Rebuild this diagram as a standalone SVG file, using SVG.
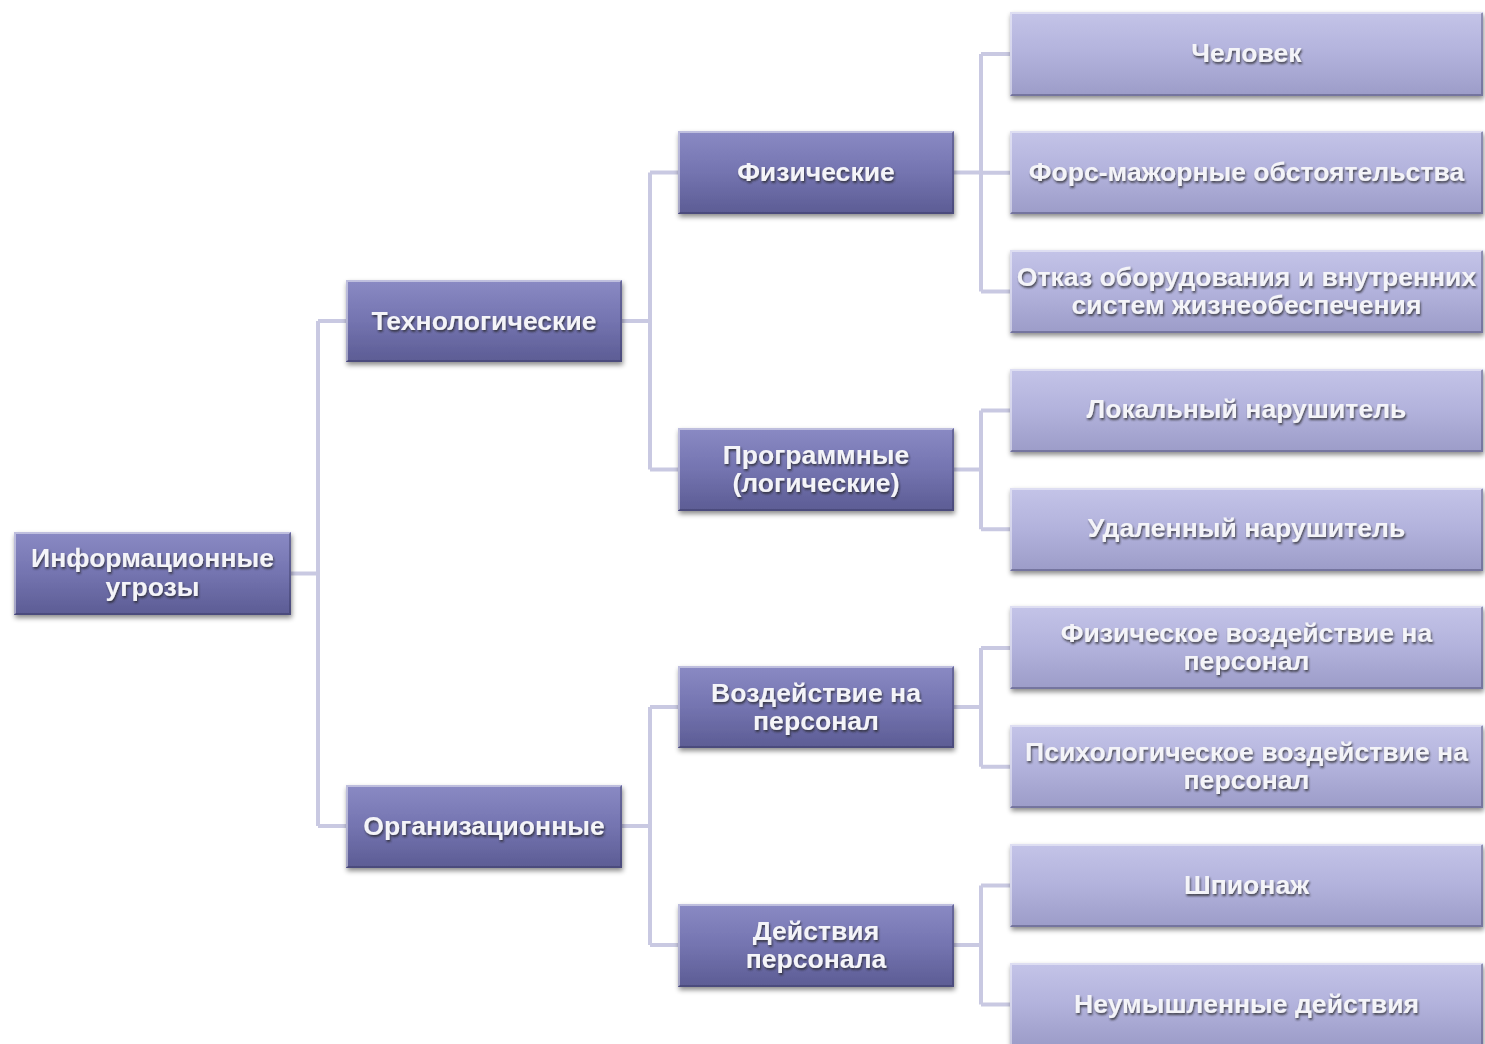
<svg xmlns="http://www.w3.org/2000/svg" width="1485" height="1044" viewBox="0 0 1485 1044">
<defs>
<linearGradient id="gDark" x1="0" y1="0" x2="0" y2="1">
<stop offset="0" stop-color="#8a8ac4"/>
<stop offset="0.5" stop-color="#7474b0"/>
<stop offset="1" stop-color="#5c5c94"/>
</linearGradient>
<linearGradient id="gLight" x1="0" y1="0" x2="0" y2="1">
<stop offset="0" stop-color="#c4c4e8"/>
<stop offset="0.5" stop-color="#b2b2dc"/>
<stop offset="1" stop-color="#9c9cc8"/>
</linearGradient>
<filter id="shadow" x="-5%" y="-10%" width="112%" height="130%">
<feDropShadow dx="1" dy="3" stdDeviation="2.5" flood-color="#000" flood-opacity="0.45"/>
</filter>
<filter id="tshadow" x="-5%" y="-20%" width="110%" height="150%">
<feDropShadow dx="1" dy="2" stdDeviation="1.2" flood-color="#222" flood-opacity="0.75"/>
</filter>
<style>
.dark{fill:url(#gDark);filter:url(#shadow)}
.light{fill:url(#gLight);filter:url(#shadow)}
.hi{fill:none;stroke:#ffffff;stroke-opacity:0.45;stroke-width:2}
.lo{fill:none;stroke:#2a2a50;stroke-opacity:0.35;stroke-width:2}
.t{font-family:"Liberation Sans",Arial,sans-serif;font-weight:bold;font-size:26.6px;fill:#f4f4f8;text-anchor:middle;filter:url(#tshadow)}
.c{fill:none;stroke:#c9c9e2;stroke-width:4}
</style>
</defs>
<rect width="1485" height="1044" fill="#ffffff"/>
<g id="connectors">
<path class="c" d="M291,573.5 H318 M318,321 V826 M318,321 H346 M318,826 H346"/>
<path class="c" d="M622,321 H650 M650,172.5 V469.5 M650,172.5 H678 M650,469.5 H678"/>
<path class="c" d="M622,826 H650 M650,707 V945 M650,707 H678 M650,945 H678"/>
<path class="c" d="M954,172.5 H981 M981,54 V291.6 M981,54 H1010 M981,172.8 H1010 M981,291.6 H1010"/>
<path class="c" d="M954,469.5 H981 M981,410.4 V529.2 M981,410.4 H1010 M981,529.2 H1010"/>
<path class="c" d="M954,707 H981 M981,648 V766.8 M981,648 H1010 M981,766.8 H1010"/>
<path class="c" d="M954,945 H981 M981,885.6 V1004.4 M981,885.6 H1010 M981,1004.4 H1010"/>
</g>
<g id="n-root">
<rect class="dark" x="14" y="532" width="277" height="83"/>
<path class="hi" d="M15,614 V533 H290"/><path class="lo" d="M15,614 H290 V533"/>
<text class="t" x="152.5" y="567">Информационные</text>
<text class="t" x="152.5" y="596">угрозы</text>
</g>
<g id="n-tech">
<rect class="dark" x="346" y="280" width="276" height="82"/>
<path class="hi" d="M347,361 V281 H621"/><path class="lo" d="M347,361 H621 V281"/>
<text class="t" x="484" y="330">Технологические</text>
</g>
<g id="n-org">
<rect class="dark" x="346" y="785" width="276" height="83"/>
<path class="hi" d="M347,867 V786 H621"/><path class="lo" d="M347,867 H621 V786"/>
<text class="t" x="484" y="835">Организационные</text>
</g>
<g id="n-phys">
<rect class="dark" x="678" y="131" width="276" height="83"/>
<path class="hi" d="M679,213 V132 H953"/><path class="lo" d="M679,213 H953 V132"/>
<text class="t" x="816" y="181">Физические</text>
</g>
<g id="n-prog">
<rect class="dark" x="678" y="428" width="276" height="83"/>
<path class="hi" d="M679,510 V429 H953"/><path class="lo" d="M679,510 H953 V429"/>
<text class="t" x="816" y="464">Программные</text>
<text class="t" x="816" y="492">(логические)</text>
</g>
<g id="n-pers">
<rect class="dark" x="678" y="666" width="276" height="82"/>
<path class="hi" d="M679,747 V667 H953"/><path class="lo" d="M679,747 H953 V667"/>
<text class="t" x="816" y="702">Воздействие на</text>
<text class="t" x="816" y="730">персонал</text>
</g>
<g id="n-act">
<rect class="dark" x="678" y="904" width="276" height="83"/>
<path class="hi" d="M679,986 V905 H953"/><path class="lo" d="M679,986 H953 V905"/>
<text class="t" x="816" y="940">Действия</text>
<text class="t" x="816" y="968">персонала</text>
</g>
<g id="n-human">
<rect class="light" x="1010" y="12" width="473" height="84"/>
<path class="hi" d="M1011,95 V13 H1482"/><path class="lo" d="M1011,95 H1482 V13"/>
<text class="t" x="1246.5" y="62">Человек</text>
</g>
<g id="n-force">
<rect class="light" x="1010" y="131" width="473" height="83"/>
<path class="hi" d="M1011,213 V132 H1482"/><path class="lo" d="M1011,213 H1482 V132"/>
<text class="t" x="1246.5" y="181">Форс-мажорные обстоятельства</text>
</g>
<g id="n-fail">
<rect class="light" x="1010" y="250" width="473" height="83"/>
<path class="hi" d="M1011,332 V251 H1482"/><path class="lo" d="M1011,332 H1482 V251"/>
<text class="t" x="1246.5" y="286">Отказ оборудования и внутренних</text>
<text class="t" x="1246.5" y="314">систем жизнеобеспечения</text>
</g>
<g id="n-local">
<rect class="light" x="1010" y="369" width="473" height="83"/>
<path class="hi" d="M1011,451 V370 H1482"/><path class="lo" d="M1011,451 H1482 V370"/>
<text class="t" x="1246.5" y="418">Локальный нарушитель</text>
</g>
<g id="n-remote">
<rect class="light" x="1010" y="488" width="473" height="83"/>
<path class="hi" d="M1011,570 V489 H1482"/><path class="lo" d="M1011,570 H1482 V489"/>
<text class="t" x="1246.5" y="537">Удаленный нарушитель</text>
</g>
<g id="n-physinf">
<rect class="light" x="1010" y="606" width="473" height="83"/>
<path class="hi" d="M1011,688 V607 H1482"/><path class="lo" d="M1011,688 H1482 V607"/>
<text class="t" x="1246.5" y="642">Физическое воздействие на</text>
<text class="t" x="1246.5" y="670">персонал</text>
</g>
<g id="n-psych">
<rect class="light" x="1010" y="725" width="473" height="83"/>
<path class="hi" d="M1011,807 V726 H1482"/><path class="lo" d="M1011,807 H1482 V726"/>
<text class="t" x="1246.5" y="761">Психологическое воздействие на</text>
<text class="t" x="1246.5" y="789">персонал</text>
</g>
<g id="n-spy">
<rect class="light" x="1010" y="844" width="473" height="83"/>
<path class="hi" d="M1011,926 V845 H1482"/><path class="lo" d="M1011,926 H1482 V845"/>
<text class="t" x="1246.5" y="894">Шпионаж</text>
</g>
<g id="n-unint">
<rect class="light" x="1010" y="963" width="473" height="83"/>
<path class="hi" d="M1011,1045 V964 H1482"/><path class="lo" d="M1011,1045 H1482 V964"/>
<text class="t" x="1246.5" y="1013">Неумышленные действия</text>
</g>
</svg>
